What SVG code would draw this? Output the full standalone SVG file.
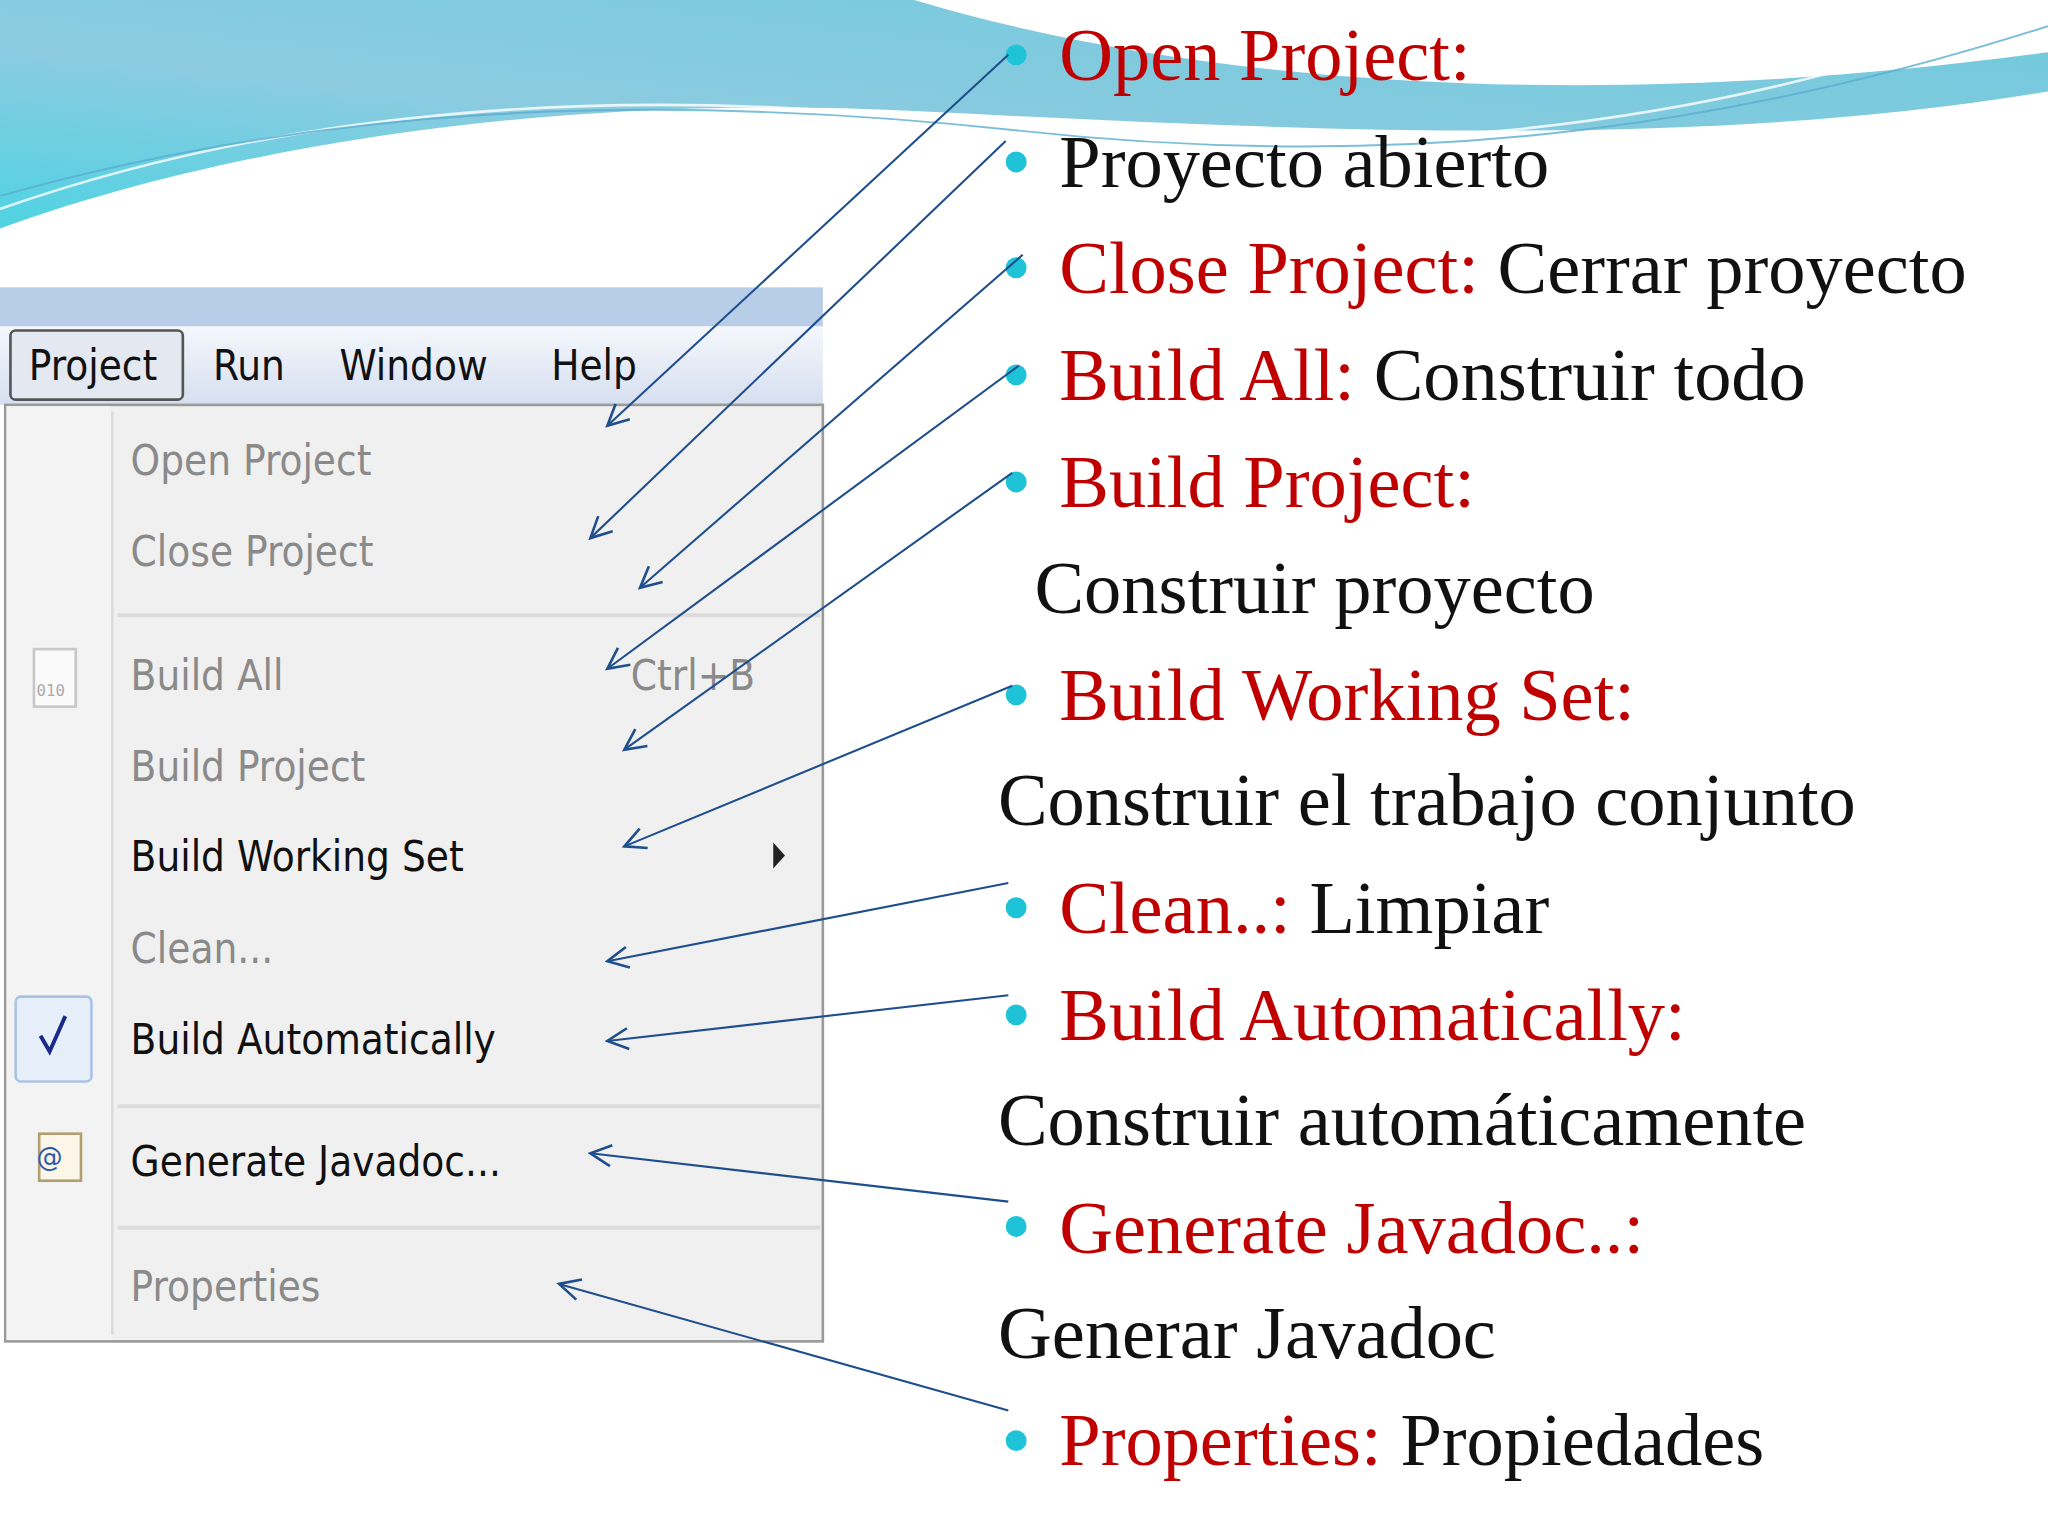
<svg xmlns="http://www.w3.org/2000/svg" width="2048" height="1536" viewBox="0 0 2048 1536">
<defs>
<linearGradient id="wave" x1="0" y1="1" x2="1" y2="0">
<stop offset="0" stop-color="#4fd3e3"/><stop offset="0.4" stop-color="#8ccbe0"/><stop offset="1" stop-color="#6fc9dc"/>
</linearGradient>
<linearGradient id="bar" x1="0" y1="0" x2="0" y2="1">
<stop offset="0" stop-color="#f4f7fc"/><stop offset="1" stop-color="#d6dff0"/>
</linearGradient>
<marker id="ah" viewBox="0 0 20 20" refX="18" refY="10" markerWidth="20" markerHeight="20" markerUnits="userSpaceOnUse" orient="auto">
<path d="M2,2 L18,10 L2,18" fill="none" stroke="#1f4e8c" stroke-width="2"/>
</marker>
<style>
.m{font-family:"DejaVu Sans Condensed","DejaVu Sans",sans-serif;font-size:32px;fill:#8a8a8a}
.mk{fill:#111}
.r{font-family:"Liberation Serif",serif;font-size:57px;fill:#111}
.red{fill:#c00000}
.b{fill:#1fc3d8}
.c{fill:none;stroke:#1f4e8c;stroke-width:1.6;marker-end:url(#ah)}
.sep{stroke:#dcdcdc;stroke-width:3}
</style>
</defs>
<rect width="2048" height="1536" fill="#fff"/>
<g transform="scale(1.30612)">
<g id="background">
<path d="M0,0 L700,0 C900,60 1200,90 1568,40 L1568,70 C1300,115 1000,100 700,85 C400,70 150,120 0,175 Z" fill="url(#wave)"/>
<path d="M0,160 C200,90 450,60 750,95 C1000,125 1300,110 1568,0" fill="none" stroke="#fff" stroke-width="2" opacity="0.8"/>
<path d="M0,150 C250,80 500,70 780,100 C1100,135 1350,90 1568,20" fill="none" stroke="#5aaed0" stroke-width="1.5" opacity="0.8"/>
</g>
<g id="menu">
<rect x="0" y="220" width="630" height="30" fill="#b7cde8"/>
<rect x="0" y="250" width="630" height="60" fill="url(#bar)"/>
<rect x="8" y="253" width="132" height="53" rx="4" fill="#e4e8f0" stroke="#555" stroke-width="2"/>
<text class="m mk" x="22" y="291">Project</text>
<text class="m mk" x="163" y="291">Run</text>
<text class="m mk" x="260" y="291">Window</text>
<text class="m mk" x="422" y="291">Help</text>
<rect x="4" y="310" width="626" height="717" fill="#f0f0f0" stroke="#9a9a9a" stroke-width="2"/>
<rect x="5" y="311" width="80" height="715" fill="#f3f3f3"/>
<line x1="86" y1="315" x2="86" y2="1022" stroke="#dcdcdc" stroke-width="2"/>
<line class="sep" x1="90" y1="471" x2="628" y2="471"/>
<line class="sep" x1="90" y1="847" x2="628" y2="847"/>
<line class="sep" x1="90" y1="940" x2="628" y2="940"/>
<text class="m" x="100" y="364">Open Project</text>
<text class="m" x="100" y="433">Close Project</text>
<text class="m" x="100" y="528">Build All</text>
<text class="m" x="483" y="528">Ctrl+B</text>
<text class="m" x="100" y="598">Build Project</text>
<text class="m mk" x="100" y="667">Build Working Set</text>
<path d="M592,645 L601,655 L592,665 Z" fill="#222"/>
<text class="m" x="100" y="737">Clean...</text>
<rect x="12" y="763" width="58" height="65" rx="4" fill="#e6eefa" stroke="#a9c3e6" stroke-width="2"/>
<path d="M31,793 L38,805 L50,778" fill="none" stroke="#1a2a8a" stroke-width="3"/>
<text class="m mk" x="100" y="807">Build Automatically</text>
<rect x="26" y="497" width="32" height="44" fill="#fafafa" stroke="#c8c8c8" stroke-width="2"/>
<text x="28" y="533" font-family="DejaVu Sans Mono,monospace" font-size="12" fill="#aaa">010</text>
<rect x="30" y="868" width="32" height="36" fill="#fbf6e8" stroke="#b0a070" stroke-width="2"/>
<text x="28" y="893" font-family="DejaVu Sans,sans-serif" font-size="20" fill="#2a5ab0">@</text>
<text class="m mk" x="100" y="900">Generate Javadoc...</text>
<text class="m" x="100" y="996">Properties</text>
</g>
<g id="labels">
<circle class="b" cx="778" cy="42" r="8"/><circle class="b" cx="778" cy="124" r="8"/><circle class="b" cx="778" cy="205" r="8"/><circle class="b" cx="778" cy="287" r="8"/><circle class="b" cx="778" cy="369" r="8"/><circle class="b" cx="778" cy="532" r="8"/><circle class="b" cx="778" cy="695" r="8"/><circle class="b" cx="778" cy="777" r="8"/><circle class="b" cx="778" cy="939" r="8"/><circle class="b" cx="778" cy="1103" r="8"/>
<text class="r red" x="811" y="61">Open Project:</text>
<text class="r" x="811" y="143">Proyecto abierto</text>
<text class="r" x="811" y="224"><tspan class="red">Close Project:</tspan> Cerrar proyecto</text>
<text class="r" x="811" y="306"><tspan class="red">Build All:</tspan> Construir todo</text>
<text class="r red" x="811" y="388">Build Project:</text>
<text class="r" x="792" y="469">Construir proyecto</text>
<text class="r red" x="811" y="551">Build Working Set:</text>
<text class="r" x="764" y="632">Construir el trabajo conjunto</text>
<text class="r" x="811" y="714"><tspan class="red">Clean..:</tspan> Limpiar</text>
<text class="r red" x="811" y="796">Build Automatically:</text>
<text class="r" x="764" y="877">Construir automáticamente</text>
<text class="r red" x="811" y="959">Generate Javadoc..:</text>
<text class="r" x="764" y="1040">Generar Javadoc</text>
<text class="r" x="811" y="1122"><tspan class="red">Properties:</tspan> Propiedades</text>
</g>
<g id="connectors">
<line class="c" x1="772" y1="42" x2="465" y2="326"/>
<line class="c" x1="770" y1="108" x2="452" y2="412"/>
<line class="c" x1="783" y1="195" x2="490" y2="450"/>
<line class="c" x1="780" y1="280" x2="465" y2="512"/>
<line class="c" x1="775" y1="362" x2="478" y2="574"/>
<line class="c" x1="775" y1="525" x2="478" y2="648"/>
<line class="c" x1="772" y1="676" x2="465" y2="736"/>
<line class="c" x1="772" y1="762" x2="465" y2="797"/>
<line class="c" x1="772" y1="920" x2="452" y2="883"/>
<line class="c" x1="772" y1="1080" x2="428" y2="983"/>
</g>
</g>
</svg>
